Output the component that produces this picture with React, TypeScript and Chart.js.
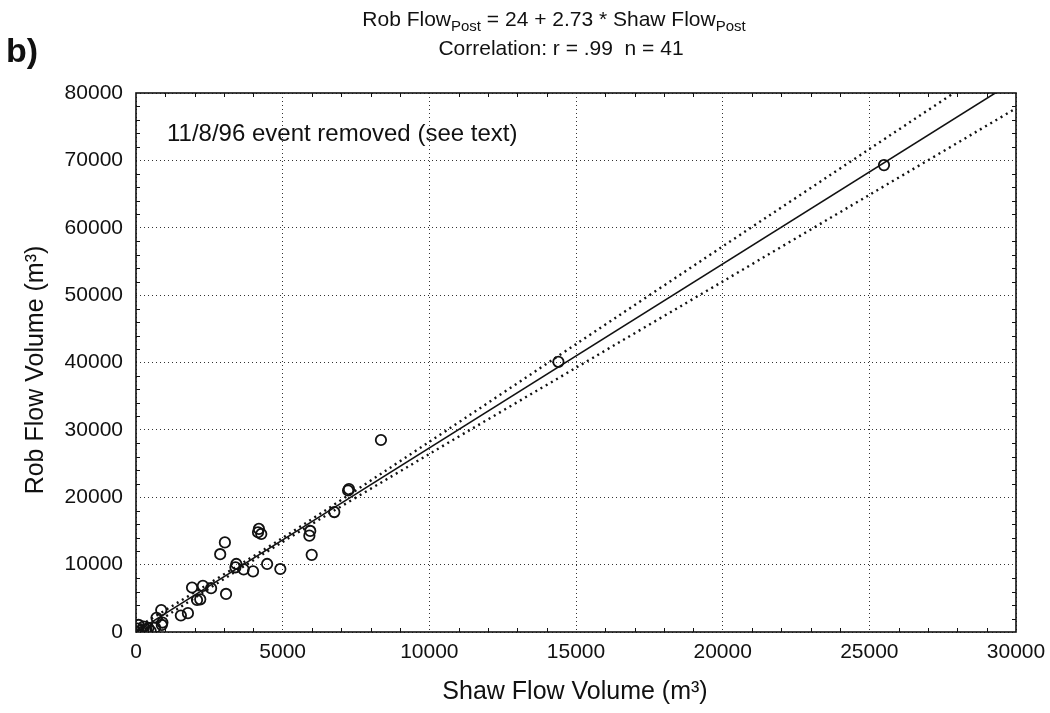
import { useEffect, useRef } from 'react';
import { Chart, registerables } from 'chart.js';

Chart.register(...registerables);

// Post-period event volumes (m³): Shaw gauge vs. Rob gauge
const shawFlow = [
  25500, 14400, 8350, 7260, 7230, 6760, 5940, 5910, 5990, 4190,
  4270, 4160, 4920, 4470, 3990, 3670, 3420, 3390, 3030, 2870,
  3070, 2560, 2280, 1910, 2190, 2080, 1770, 1530, 860, 700,
  900, 650, 260, 90, 880, 350, 150, 500, 60, 250,
  420,
];
const robFlow = [
  69300, 40100, 28500, 21200, 21000, 17800, 15000, 14300, 11450, 15300,
  14550, 14800, 9350, 10100, 9000, 9300, 10100, 9600, 13300, 11550,
  5650, 6500, 6850, 6600, 4850, 4750, 2800, 2450, 3250, 2100,
  1400, 650, 800, 1050, 1050, 350, 200, 150, 500, 100,
  600,
];

// Fitted regression: Rob = 24 + 2.73 * Shaw
const fitIntercept = 24;
const fitSlope = 2.73;
const fitRangeX = [0, 30000];

// 95% confidence band around the fit
const bandX = [0, 5000, 10000, 15000, 20000, 25000, 30000];
const bandUpper = [574, 13974, 28224, 42724, 57224, 71674, 86124];
const bandLower = [-526, 13374, 26424, 39224, 52024, 64874, 77724];

// Axis ranges and tick spacing
const xRange = [0, 30000];
const yRange = [0, 80000];
const xMajorStep = 5000;
const yMajorStep = 10000;
const xMinorStep = 1000;
const yMinorStep = 2000;

const FONT = '"Liberation Sans", Arial, Helvetica, sans-serif';
const INK = '#111';

const plainNumber = (v: any) => String(v);

const decorations = {
  id: 'decorations',
  beforeDraw(chart: any) {
    const { ctx, width, height } = chart;
    ctx.save();
    ctx.fillStyle = '#fff';
    ctx.fillRect(0, 0, width, height);
    ctx.restore();
  },
  afterDraw(chart: any) {
    const { ctx, chartArea } = chart;
    const { left, right, top, bottom } = chartArea;
    const xs = chart.scales.x;
    const ys = chart.scales.y;
    ctx.save();

    // frame
    ctx.strokeStyle = INK;
    ctx.lineWidth = 1.6;
    ctx.strokeRect(left, top, right - left, bottom - top);

    // inward minor ticks on all four sides
    ctx.lineWidth = 1;
    const tick = 4;
    for (let v = xRange[0] + xMinorStep; v < xRange[1]; v += xMinorStep) {
      if (v % xMajorStep === 0) continue;
      const p = Math.round(xs.getPixelForValue(v)) + 0.5;
      ctx.beginPath();
      ctx.moveTo(p, bottom);
      ctx.lineTo(p, bottom - tick);
      ctx.moveTo(p, top);
      ctx.lineTo(p, top + tick);
      ctx.stroke();
    }
    for (let v = yRange[0] + yMinorStep; v < yRange[1]; v += yMinorStep) {
      if (v % yMajorStep === 0) continue;
      const p = Math.round(ys.getPixelForValue(v)) + 0.5;
      ctx.beginPath();
      ctx.moveTo(left, p);
      ctx.lineTo(left + tick, p);
      ctx.moveTo(right, p);
      ctx.lineTo(right - tick, p);
      ctx.stroke();
    }

    ctx.fillStyle = INK;

    // panel letter
    ctx.font = `bold 34px ${FONT}`;
    ctx.textAlign = 'left';
    ctx.textBaseline = 'alphabetic';
    ctx.fillText('b)', 6, 62);

    // equation line with subscripts
    const main = `21px ${FONT}`;
    const sub = `15px ${FONT}`;
    const parts: [string, boolean][] = [
      ['Rob Flow', false],
      ['Post', true],
      [' = 24 + 2.73 * Shaw Flow', false],
      ['Post', true],
    ];
    let total = 0;
    for (const [t, s] of parts) {
      ctx.font = s ? sub : main;
      total += ctx.measureText(t).width;
    }
    let cx = 554 - total / 2;
    for (const [t, s] of parts) {
      ctx.font = s ? sub : main;
      ctx.fillText(t, cx, s ? 31 : 26);
      cx += ctx.measureText(t).width;
    }

    ctx.font = main;
    ctx.textAlign = 'center';
    ctx.fillText('Correlation: r = .99  n = 41', 561, 55);

    // note inside the plot
    ctx.font = `24px ${FONT}`;
    ctx.textAlign = 'left';
    ctx.textBaseline = 'middle';
    ctx.fillText('11/8/96 event removed (see text)', 167, 134);

    // axis titles
    ctx.font = `25px ${FONT}`;
    ctx.textAlign = 'center';
    ctx.fillText('Shaw Flow Volume (m³)', 575, 692);
    ctx.save();
    ctx.translate(36, 370);
    ctx.rotate(-Math.PI / 2);
    ctx.fillText('Rob Flow Volume (m³)', 0, 0);
    ctx.restore();

    ctx.restore();
  },
};

export default function App() {
  const canvasRef = useRef<HTMLCanvasElement | null>(null);

  useEffect(() => {
    document.body.style.margin = '0';
    const canvas = canvasRef.current;
    if (!canvas) return;

    const points = shawFlow.map((x, i) => ({ x, y: robFlow[i] }));
    const fit = fitRangeX.map((x) => ({ x, y: fitIntercept + fitSlope * x }));
    const upper = bandX.map((x, i) => ({ x, y: bandUpper[i] }));
    const lower = bandX.map((x, i) => ({ x, y: bandLower[i] }));

    const bandStyle = {
      showLine: true,
      borderColor: INK,
      borderWidth: 2.4,
      borderDash: [2, 4],
      pointRadius: 0,
      tension: 0.3,
      fill: false,
    };

    const chart = new Chart(canvas, {
      type: 'scatter',
      data: {
        datasets: [
          { data: upper, ...bandStyle },
          { data: lower, ...bandStyle },
          {
            data: fit,
            showLine: true,
            borderColor: INK,
            borderWidth: 1.6,
            pointRadius: 0,
            fill: false,
          },
          {
            data: points,
            showLine: false,
            pointStyle: 'circle',
            pointRadius: 5.2,
            borderColor: INK,
            backgroundColor: 'rgba(0,0,0,0)',
            borderWidth: 1.8,
          },
        ],
      },
      options: {
        responsive: false,
        animation: false,
        layout: { padding: { top: 93, right: 34, left: 0, bottom: 0 } },
        plugins: {
          legend: { display: false },
          tooltip: { enabled: false },
          title: { display: false },
        },
        scales: {
          x: {
            type: 'linear',
            min: xRange[0],
            max: xRange[1],
            ticks: {
              stepSize: xMajorStep,
              autoSkip: false,
              maxRotation: 0,
              padding: 8,
              color: INK,
              font: { family: FONT, size: 21 },
              callback: plainNumber,
            },
            grid: { color: '#333', lineWidth: 1, drawTicks: false },
            border: { display: false, dash: [1, 3] },
            afterFit: (s: any) => {
              s.height = 81;
              s.paddingRight = 0;
              s.paddingLeft = 0;
            },
          },
          y: {
            type: 'linear',
            min: yRange[0],
            max: yRange[1],
            ticks: {
              stepSize: yMajorStep,
              autoSkip: false,
              padding: 13,
              color: INK,
              font: { family: FONT, size: 21 },
              callback: plainNumber,
            },
            grid: { color: '#333', lineWidth: 1, drawTicks: false },
            border: { display: false, dash: [1, 3] },
            afterFit: (s: any) => {
              s.width = 136;
              s.paddingTop = 0;
              s.paddingBottom = 0;
            },
          },
        },
      },
      plugins: [decorations],
    } as any);

    return () => chart.destroy();
  }, []);

  return (
    <div style={{ width: 1050, height: 713 }}>
      <canvas ref={canvasRef} width={1050} height={713} />
    </div>
  );
}
